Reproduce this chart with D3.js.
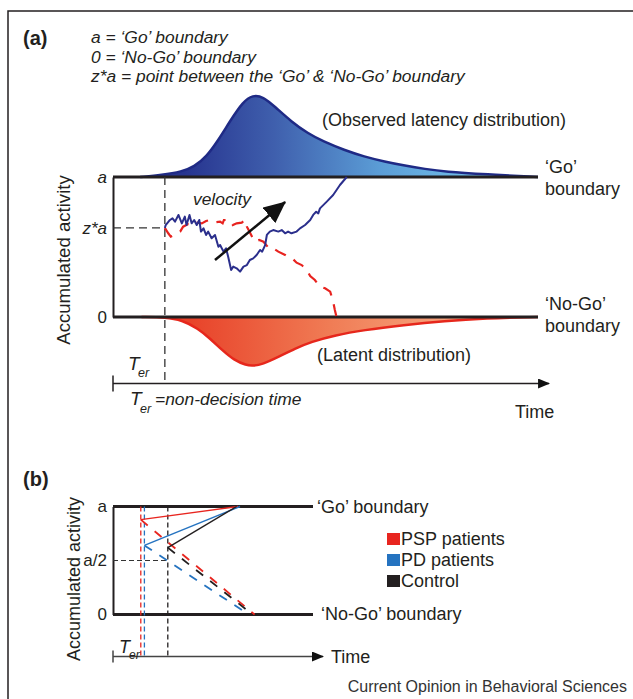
<!DOCTYPE html>
<html>
<head>
<meta charset="utf-8">
<script src="https://cdn.jsdelivr.net/npm/d3@7"></script>
<style>
  body { margin: 0; background: #fff; }
  svg { display: block; font-family: "Liberation Sans", Arial, Helvetica, sans-serif; }
</style>
</head>
<body>
<svg width="633" height="699"></svg>
<script>
// ---- panel (a) data : time in % of the axis, activity in units of a ----
const terA = 12.2;
const zStart = 0.636;
const headerLines = [
  'a = \u2018Go\u2019 boundary',
  '0 = \u2018No-Go\u2019 boundary',
  'z*a = point between the \u2018Go\u2019 & \u2018No-Go\u2019 boundary'
];
const aTicks = [0, zStart, 1];
const aTickLabels = ['0', 'z*a', 'a'];
const aTickItalic = [false, true, true];

// observed (Go) latency density, drawn above the 'Go' boundary
const goDensity = [
  [6.4, 0], [11.5, 0.024], [16.2, 0.065], [19.1, 0.126], [22.0, 0.248], [24.8, 0.451],
  [27.7, 0.695], [30.6, 0.918], [32.9, 1.0], [35.3, 0.979], [38.1, 0.857], [42.0, 0.674],
  [45.8, 0.533], [49.6, 0.430], [54.4, 0.329], [59.1, 0.248], [63.9, 0.187], [68.7, 0.138],
  [73.4, 0.098], [78.1, 0.065], [87.8, 0.033], [100, 0]
];
// latent (No-Go) density, drawn below the 'No-Go' boundary
const latentDensity = [
  [6.7, 0], [12.4, 0.004], [16.2, 0.037], [20.0, 0.138], [22.8, 0.260], [25.7, 0.402],
  [28.5, 0.524], [31.4, 0.585], [32.8, 0.594], [35.2, 0.573], [39.0, 0.484], [42.8, 0.382],
  [46.6, 0.301], [52.3, 0.220], [58.9, 0.159], [68.4, 0.098], [78.0, 0.049], [87.5, 0.016], [100, 0]
];
// sample accumulation paths
const goWalk = [
  [12.2, 0.636], [12.4, 0.657], [13.4, 0.693], [14.0, 0.705], [14.6, 0.681], [15.4, 0.729],
  [16.2, 0.669], [16.9, 0.717], [17.3, 0.657], [18.0, 0.729], [18.5, 0.669], [19.1, 0.693],
  [19.7, 0.657], [20.3, 0.693], [20.7, 0.610], [21.3, 0.633], [21.9, 0.586], [22.4, 0.610],
  [23.2, 0.562], [24.0, 0.586], [24.8, 0.502], [25.2, 0.514], [26.0, 0.467], [26.6, 0.490],
  [27.1, 0.431], [27.8, 0.336], [28.3, 0.360], [29.1, 0.348], [29.9, 0.324], [30.7, 0.360],
  [31.5, 0.371], [32.2, 0.407], [33.0, 0.419], [33.8, 0.443], [34.6, 0.479], [35.1, 0.467],
  [35.8, 0.514], [36.2, 0.586], [36.9, 0.610], [37.7, 0.621], [38.9, 0.610], [39.7, 0.621],
  [40.5, 0.598], [41.2, 0.610], [42.0, 0.598], [43.2, 0.610], [44.0, 0.633], [45.2, 0.657],
  [46.4, 0.693], [47.1, 0.729], [47.8, 0.752], [48.3, 0.740], [48.7, 0.776], [50.3, 0.824],
  [51.8, 0.871], [53.4, 0.943], [55.0, 1.0]
];
const noGoWalk = [
  [12.2, 0.636], [13.0, 0.598], [13.6, 0.574], [14.6, 0.586], [15.8, 0.610], [16.5, 0.645],
  [17.7, 0.664], [18.9, 0.657], [19.8, 0.674], [20.9, 0.669], [21.9, 0.686], [22.8, 0.693],
  [24.0, 0.676], [25.2, 0.681], [25.8, 0.669], [26.1, 0.693], [27.1, 0.693], [27.8, 0.681],
  [28.2, 0.657], [29.1, 0.669], [30.3, 0.674], [31.1, 0.693], [31.5, 0.645], [32.1, 0.610],
  [32.9, 0.562], [33.4, 0.538], [34.4, 0.550], [35.4, 0.538], [36.5, 0.498], [37.3, 0.479],
  [38.1, 0.483], [38.9, 0.467], [40.5, 0.443], [41.6, 0.419], [42.4, 0.412], [43.2, 0.388],
  [44.4, 0.371], [45.6, 0.336], [46.4, 0.293], [47.5, 0.264], [48.7, 0.217], [49.9, 0.205],
  [51.1, 0.181], [51.8, 0.110], [52.2, 0.050], [52.6, 0.0]
];
const velocity = [[24.0, 0.407], [40.5, 0.821]];

// ---- panel (b) data ----
const groups = ['PSP patients', 'PD patients', 'Control'];
const groupColors = ['#e8251f', '#2573c0', '#231f20'];
const groupTer = [13.9, 15.7, 27.4];
const groupStart = [0.878, 0.640, 0.619];
const groupGoHit = [62.5, 63.5, 61.8];
const groupNoGoHit = [70.8, 67.8, 69.8];
const bTicks = [0, 0.5, 1];
const bTickLabels = ['0', 'a/2', 'a'];

// ---------------------------------------------------------------------------
const svg = d3.select('svg');
const font = '"Liberation Sans", Arial, Helvetica, sans-serif';

// frame (open on the right / bottom as in the figure)
svg.append('path')
  .attr('d', 'M8,699V11H633')
  .attr('fill', 'none')
  .attr('stroke', '#231f20')
  .attr('stroke-width', 1.5);

const defs = svg.append('defs');
const grad = (id, stops, x1, x2) => {
  const g = defs.append('linearGradient')
    .attr('id', id)
    .attr('gradientUnits', 'userSpaceOnUse')
    .attr('x1', x1).attr('x2', x2).attr('y1', 0).attr('y2', 0);
  stops.forEach(s => g.append('stop').attr('offset', s[0]).attr('stop-color', s[1]));
};
grad('blueGrad', [[0, '#27348f'], [0.25, '#3f5fad'], [0.55, '#5b9dd6'], [1, '#80d4f6']], 185, 540);
grad('redGrad', [[0, '#e8432a'], [0.4, '#f07c55'], [1, '#fbc29c']], 190, 540);

const marker = (id, w, h) => {
  defs.append('marker')
    .attr('id', id)
    .attr('viewBox', `0 0 ${w} ${h}`)
    .attr('refX', w - 1).attr('refY', h / 2)
    .attr('markerWidth', w).attr('markerHeight', h)
    .attr('markerUnits', 'userSpaceOnUse')
    .attr('orient', 'auto')
    .append('path')
    .attr('d', `M0,0L${w},${h / 2}L0,${h}Z`)
    .attr('fill', '#111');
};
marker('bigArrow', 22, 20);
marker('axisArrow', 12, 10);

const addText = (g, x, y, txt, opts = {}) => g.append('text')
  .attr('x', x).attr('y', y)
  .attr('font-size', opts.size || 18)
  .attr('font-style', opts.italic ? 'italic' : null)
  .attr('font-weight', opts.bold ? 'bold' : null)
  .attr('text-anchor', opts.anchor || 'start')
  .attr('fill', opts.fill || '#231f20')
  .text(txt);

// =========================== panel (a) ===================================
const xA = d3.scaleLinear().domain([0, 100]).range([113, 538]);
const yA = d3.scaleLinear().domain([0, 1]).range([317, 177]);
const densUp = d3.scaleLinear().domain([0, 1]).range([yA(1), yA(1) - 82]);
const densDown = d3.scaleLinear().domain([0, 1]).range([yA(0), yA(0) + 49 / 0.594]);
const timeAxisA = 383.5;
const timeEndA = 102.6;

const pa = svg.append('g');
addText(pa, 23, 45, '(a)', { size: 20, bold: true });
headerLines.forEach((l, i) => addText(pa, 91, 43 + i * 19.5, l, { size: 17.4, italic: true }));

// distributions
const upArea = d3.area().curve(d3.curveBasis)
  .x(d => xA(d[0])).y0(yA(1)).y1(d => densUp(d[1]));
const upLine = d3.line().curve(d3.curveBasis)
  .x(d => xA(d[0])).y(d => densUp(d[1]));
pa.append('path').attr('d', upArea(goDensity)).attr('fill', 'url(#blueGrad)');
pa.append('path').attr('d', upLine(goDensity))
  .attr('fill', 'none').attr('stroke', '#1f2a85').attr('stroke-width', 2.5);

const downArea = d3.area().curve(d3.curveBasis)
  .x(d => xA(d[0])).y0(yA(0)).y1(d => densDown(d[1]));
const downLine = d3.line().curve(d3.curveBasis)
  .x(d => xA(d[0])).y(d => densDown(d[1]));
pa.append('path').attr('d', downArea(latentDensity)).attr('fill', 'url(#redGrad)');
pa.append('path').attr('d', downLine(latentDensity))
  .attr('fill', 'none').attr('stroke', '#e6271c').attr('stroke-width', 2.5);

// boundaries
[0, 1].forEach(v => pa.append('line')
  .attr('x1', xA(0)).attr('x2', xA(100))
  .attr('y1', yA(v)).attr('y2', yA(v))
  .attr('stroke', '#231f20').attr('stroke-width', 3));

// activity axis
const axA = pa.append('g')
  .attr('transform', `translate(${xA(0)},0)`)
  .call(d3.axisLeft(yA).tickValues(aTicks)
    .tickFormat((d, i) => aTickLabels[i])
    .tickSize(0).tickSizeOuter(0).tickPadding(6));
axA.attr('font-size', 17).attr('font-family', font);
axA.select('.domain').attr('stroke', '#231f20').attr('stroke-width', 2);
axA.selectAll('.tick text')
  .attr('fill', '#231f20')
  .attr('font-style', (d, i) => aTickItalic[i] ? 'italic' : null);

// T_er guides
pa.append('line')
  .attr('x1', xA(0)).attr('x2', xA(terA))
  .attr('y1', yA(zStart)).attr('y2', yA(zStart))
  .attr('stroke', '#333').attr('stroke-width', 1.3).attr('stroke-dasharray', '8,5');
pa.append('line')
  .attr('x1', xA(terA)).attr('x2', xA(terA))
  .attr('y1', yA(1)).attr('y2', timeAxisA)
  .attr('stroke', '#333').attr('stroke-width', 1.3).attr('stroke-dasharray', '8,5');

// walks
const walkLine = d3.line().x(d => xA(d[0])).y(d => yA(d[1]));
pa.append('path').attr('d', walkLine(noGoWalk))
  .attr('fill', 'none').attr('stroke', '#e8231f').attr('stroke-width', 2.2)
  .attr('stroke-dasharray', '12,9');
pa.append('path').attr('d', walkLine(goWalk))
  .attr('fill', 'none').attr('stroke', '#2b2f8c').attr('stroke-width', 2)
  .attr('stroke-linejoin', 'round');

// velocity arrow
pa.append('path').attr('d', walkLine(velocity))
  .attr('stroke', '#111').attr('stroke-width', 2.5)
  .attr('marker-end', 'url(#bigArrow)');
addText(pa, 193, 205, 'velocity', { size: 17.4, italic: true });

// time axis
pa.append('line')
  .attr('x1', xA(0)).attr('x2', xA(timeEndA))
  .attr('y1', timeAxisA).attr('y2', timeAxisA)
  .attr('stroke', '#231f20').attr('stroke-width', 1.5)
  .attr('marker-end', 'url(#axisArrow)');
pa.append('line')
  .attr('x1', xA(0)).attr('x2', xA(0))
  .attr('y1', timeAxisA - 8).attr('y2', timeAxisA + 8)
  .attr('stroke', '#231f20').attr('stroke-width', 1.5);

// labels
addText(pa, 0, 0, 'Accumulated activity', { size: 18.6, anchor: 'middle' })
  .attr('transform', 'translate(70,260) rotate(-90)');
addText(pa, 322, 126, '(Observed latency distribution)');
addText(pa, 545, 173, '\u2018Go\u2019');
addText(pa, 545, 195, 'boundary');
addText(pa, 545, 310, '\u2018No-Go\u2019');
addText(pa, 545, 332, 'boundary');
addText(pa, 317, 361, '(Latent distribution)');
addText(pa, 128, 370, 'T', { size: 19, italic: true });
addText(pa, 138, 377, 'er', { size: 12.5, italic: true });
addText(pa, 130, 405, 'T', { size: 19, italic: true });
addText(pa, 140, 413, 'er', { size: 12.5, italic: true });
addText(pa, 155, 405, '=non-decision time', { size: 17.4, italic: true });
addText(pa, 515, 418, 'Time');

// =========================== panel (b) ===================================
const xB = d3.scaleLinear().domain([0, 100]).range([113, 313]);
const yB = d3.scaleLinear().domain([0, 1]).range([614.5, 506.5]);
const timeAxisB = 656.5;
const timeEndB = 105;

const pb = svg.append('g');
addText(pb, 23, 486, '(b)', { size: 20, bold: true });

[0, 1].forEach(v => pb.append('line')
  .attr('x1', xB(0)).attr('x2', xB(100))
  .attr('y1', yB(v)).attr('y2', yB(v))
  .attr('stroke', '#231f20').attr('stroke-width', 3));

const axB = pb.append('g')
  .attr('transform', `translate(${xB(0)},0)`)
  .call(d3.axisLeft(yB).tickValues(bTicks)
    .tickFormat((d, i) => bTickLabels[i])
    .tickSize(0).tickSizeOuter(0).tickPadding(6));
axB.attr('font-size', 17).attr('font-family', font);
axB.select('.domain').attr('stroke', '#231f20').attr('stroke-width', 2);
axB.selectAll('.tick text').attr('fill', '#231f20');

// a/2 guide
pb.append('line')
  .attr('x1', xB(0)).attr('x2', xB(groupTer[2]))
  .attr('y1', yB(0.5)).attr('y2', yB(0.5))
  .attr('stroke', '#333').attr('stroke-width', 1.2).attr('stroke-dasharray', '5,3');

// T_er guides
groups.forEach((g, i) => pb.append('line')
  .attr('x1', xB(groupTer[i])).attr('x2', xB(groupTer[i]))
  .attr('y1', yB(1)).attr('y2', timeAxisB)
  .attr('stroke', groupColors[i]).attr('stroke-width', 1.3)
  .attr('stroke-dasharray', '5,3'));

// trajectories
groups.forEach((g, i) => {
  pb.append('line')
    .attr('x1', xB(groupTer[i])).attr('y1', yB(groupStart[i]))
    .attr('x2', xB(groupNoGoHit[i])).attr('y2', yB(0))
    .attr('stroke', groupColors[i]).attr('stroke-width', 1.8)
    .attr('stroke-dasharray', '9,9');
  pb.append('line')
    .attr('x1', xB(groupTer[i])).attr('y1', yB(groupStart[i]))
    .attr('x2', xB(groupGoHit[i])).attr('y2', yB(1))
    .attr('stroke', groupColors[i]).attr('stroke-width', 1.4);
});

// time axis
pb.append('line')
  .attr('x1', xB(0)).attr('x2', xB(timeEndB))
  .attr('y1', timeAxisB).attr('y2', timeAxisB)
  .attr('stroke', '#444').attr('stroke-width', 1.5)
  .attr('marker-end', 'url(#axisArrow)');
pb.append('line')
  .attr('x1', xB(0)).attr('x2', xB(0))
  .attr('y1', timeAxisB - 6).attr('y2', timeAxisB + 6)
  .attr('stroke', '#444').attr('stroke-width', 1.5);

// legend
groups.forEach((g, i) => {
  pb.append('rect')
    .attr('x', 387).attr('y', 533 + i * 21)
    .attr('width', 13).attr('height', 12)
    .attr('fill', groupColors[i]);
  addText(pb, 401, 545 + i * 21, g);
});

addText(pb, 0, 0, 'Accumulated activity', { size: 18, anchor: 'middle' })
  .attr('transform', 'translate(80,579) rotate(-90)');
addText(pb, 317, 513, '\u2018Go\u2019 boundary');
addText(pb, 321, 620, '\u2018No-Go\u2019 boundary');
addText(pb, 119, 653, 'T', { size: 18, italic: true });
addText(pb, 129, 659, 'er', { size: 12, italic: true });
addText(pb, 331, 663, 'Time');
addText(pb, 627, 692, 'Current Opinion in Behavioral Sciences', { size: 16, anchor: 'end', fill: '#333' });
</script>
</body>
</html>
